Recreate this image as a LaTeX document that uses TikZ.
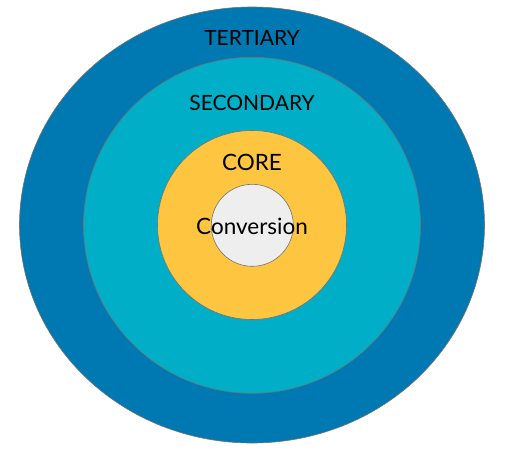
\documentclass[tikz,border=0pt]{standalone}
\usepackage{fontspec}
\setmainfont{Lato}
\usepackage{xcolor}
\usepackage{tikz}
\usetikzlibrary{shapes.geometric,positioning}

\definecolor{tertiaryblue}{HTML}{0079B3}
\definecolor{secondaryteal}{HTML}{00AEC7}
\definecolor{coreyellow}{HTML}{FEC640}
\definecolor{convgray}{HTML}{EEEEEE}

\begin{document}
\begin{tikzpicture}[
  x=1pt,y=-1pt,
  ring/.style={ellipse,draw=black!55,line width=0.6pt,inner sep=0pt},
  ring label/.style={anchor=base,inner sep=0pt,font=\fontsize{21}{24}\selectfont},
  big label/.style={ring label,font=\fontsize{22.5}{26}\selectfont}]
  \useasboundingbox (0,0) rectangle (512,451);
  % rings from outside in
  \node [ring,fill=tertiaryblue,minimum width=465pt,minimum height=436pt] (tertiary) at (252,225) {};
  \node [ring,fill=secondaryteal,minimum width=337pt,minimum height=336pt] (secondary) at (252,225.3) {};
  \node [ring,fill=coreyellow,minimum width=189pt,minimum height=189pt] (core) at (252,225) {};
  \node [ring,fill=convgray,minimum width=82pt,minimum height=82pt] (conversion) at (252.3,225.3) {};
  % labels
  \node [ring label] (tertiary lbl) at (252,45) {TERTIARY};
  \node [ring label] (secondary lbl) at (252,110) {SECONDARY};
  \node [big label] (core lbl) at (252,170.5) {CORE};
  \node [big label] (conversion lbl) at (252,234) {Conversion};
\end{tikzpicture}
\end{document}
